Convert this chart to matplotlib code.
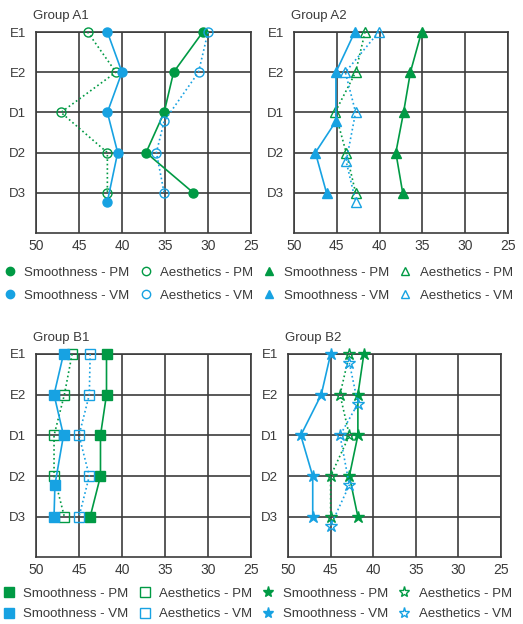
import numpy as np
import matplotlib.pyplot as plt
from matplotlib.lines import Line2D

plt.rcParams['font.family'] = ['Liberation Sans', 'DejaVu Sans']

# Data
rows = ['E1', 'E2', 'D1', 'D2', 'D3']
x_ticks = [50, 45, 40, 35, 30, 25]

# Group A1
a1_smooth_pm = [30.6, 34.0, 35.1, 37.2, 31.7]
a1_aes_pm = [44.0, 40.7, 47.1, 41.7, 41.7]
a1_smooth_vm = [41.7, 40.0, 41.7, 40.5, 41.7]
a1_aes_vm = [30.0, 31.1, 35.1, 36.0, 35.1]
# Group A2
a2_smooth_pm = [35.1, 36.4, 37.2, 38.1, 37.3]
a2_aes_pm = [41.7, 42.8, 45.2, 43.9, 42.8]
a2_smooth_vm = [42.9, 45.1, 45.1, 47.5, 46.2]
a2_aes_vm = [40.1, 44.0, 42.8, 43.9, 42.8]
# Group B1
b1_smooth_pm = [41.8, 41.8, 42.5, 42.5, 43.7]
b1_aes_pm = [45.8, 46.7, 47.9, 47.9, 46.7]
b1_smooth_vm = [46.8, 47.9, 46.8, 47.8, 47.9]
b1_aes_vm = [43.7, 43.8, 45.0, 43.8, 45.0]
# Group B2
b2_smooth_pm = [41.1, 41.8, 41.8, 42.8, 41.8]
b2_aes_pm = [42.8, 43.9, 42.8, 45.0, 45.0]
b2_smooth_vm = [45.0, 46.1, 48.5, 47.1, 47.1]
b2_aes_vm = [42.8, 41.8, 43.9, 42.8, 45.0]

# points nudged a bit below their row in the original (1 = nudged)
no_nudge = [0, 0, 0, 0, 0]
a1_smooth_vm_nudge = [0, 0, 0, 0, 1]
a1_aes_vm_nudge = [0, 0, 1, 0, 0]
a2_smooth_vm_nudge = [0, 0, 1, 0, 0]
a2_aes_vm_nudge = [0, 0, 0, 1, 1]
b1_smooth_vm_nudge = [0, 0, 0, 1, 0]
b2_aes_vm_nudge = [1, 1, 0, 1, 1]

GREEN = '#009a44'
BLUE = '#17a2e2'
GRID = '#3c3c3c'
TEXT = '#3a3a3a'
NUDGE = 0.22

fig = plt.figure(figsize=(5.23, 6.24), dpi=100)

panels = [
    ('Group A1', [0.0688, 0.6266, 0.4111, 0.3221], 'o', 6.5,
     [(a1_smooth_pm, no_nudge), (a1_aes_pm, no_nudge),
      (a1_smooth_vm, a1_smooth_vm_nudge), (a1_aes_vm, a1_aes_vm_nudge)]),
    ('Group A2', [0.5621, 0.6266, 0.4092, 0.3221], '^', 6.5,
     [(a2_smooth_pm, no_nudge), (a2_aes_pm, no_nudge),
      (a2_smooth_vm, a2_smooth_vm_nudge), (a2_aes_vm, a2_aes_vm_nudge)]),
    ('Group B1', [0.0688, 0.1066, 0.4111, 0.3261], 's', 6.5,
     [(b1_smooth_pm, no_nudge), (b1_aes_pm, no_nudge),
      (b1_smooth_vm, b1_smooth_vm_nudge), (b1_aes_vm, no_nudge)]),
    ('Group B2', [0.5507, 0.1066, 0.4073, 0.3261], '*', 9,
     [(b2_smooth_pm, no_nudge), (b2_aes_pm, no_nudge),
      (b2_smooth_vm, no_nudge), (b2_aes_vm, b2_aes_vm_nudge)]),
]

# smoothness = solid + filled, aesthetics = dotted + open
styles = [(GREEN, '-', True), (GREEN, ':', False), (BLUE, '-', True), (BLUE, ':', False)]

for title, rect, marker, ms, series in panels:
    ax = fig.add_axes(rect)
    base = np.arange(len(rows))
    for (vals, nudge), (col, ls, filled) in zip(series, styles):
        y = base + NUDGE * np.array(nudge)
        ax.plot(vals, y, color=col, linestyle=ls, lw=1.2, marker=marker, ms=ms,
                mfc=col if filled else 'none', mec=col, mew=1.0, zorder=3,
                clip_on=False)
    ax.set_xlim(50, 25)
    ax.set_ylim(5, 0)
    ax.set_xticks(x_ticks)
    ax.set_xticklabels([str(t) for t in x_ticks])
    ax.set_yticks(base)
    ax.set_yticklabels(rows)
    ax.grid(True, color=GRID, lw=1.2)
    ax.set_axisbelow(True)
    for sp in ax.spines.values():
        sp.set_color(GRID)
        sp.set_linewidth(1.2)
    ax.tick_params(axis='both', length=0, colors=TEXT)
    ax.tick_params(axis='y', pad=7, labelsize=9.5)
    ax.tick_params(axis='x', pad=4, labelsize=10)
    ax.annotate(title, xy=(0, 1), xycoords='axes fraction', xytext=(-2, 11.5),
                textcoords='offset points', ha='left', va='center',
                fontsize=9.5, color=TEXT)


def legend_handles(marker, ms):
    h = []
    for col, filled in [(GREEN, True), (BLUE, True), (GREEN, False), (BLUE, False)]:
        h.append(Line2D([], [], linestyle='none', marker=marker, ms=ms, color=col,
                        mfc=col if filled else 'none', mec=col, mew=1.0))
    return h


labels = ['Smoothness - PM', 'Smoothness - VM', 'Aesthetics - PM', 'Aesthetics - VM'] * 2

top_h = legend_handles('o', 6) + legend_handles('^', 6)
fig.legend(top_h, labels, loc='upper left', bbox_to_anchor=(0.006, 0.573), ncol=4,
           frameon=False, fontsize=9.5, handlelength=1.0, handletextpad=0.6,
           columnspacing=0.72, labelspacing=0.82, borderpad=0, borderaxespad=0,
           labelcolor=TEXT)

bot_h = legend_handles('s', 6.5) + legend_handles('*', 8)
fig.legend(bot_h, labels, loc='upper left', bbox_to_anchor=(0.004, 0.058), ncol=4,
           frameon=False, fontsize=9.5, handlelength=1.0, handletextpad=0.6,
           columnspacing=0.72, labelspacing=0.62, borderpad=0, borderaxespad=0,
           labelcolor=TEXT)

plt.savefig('out.png', dpi=100)
